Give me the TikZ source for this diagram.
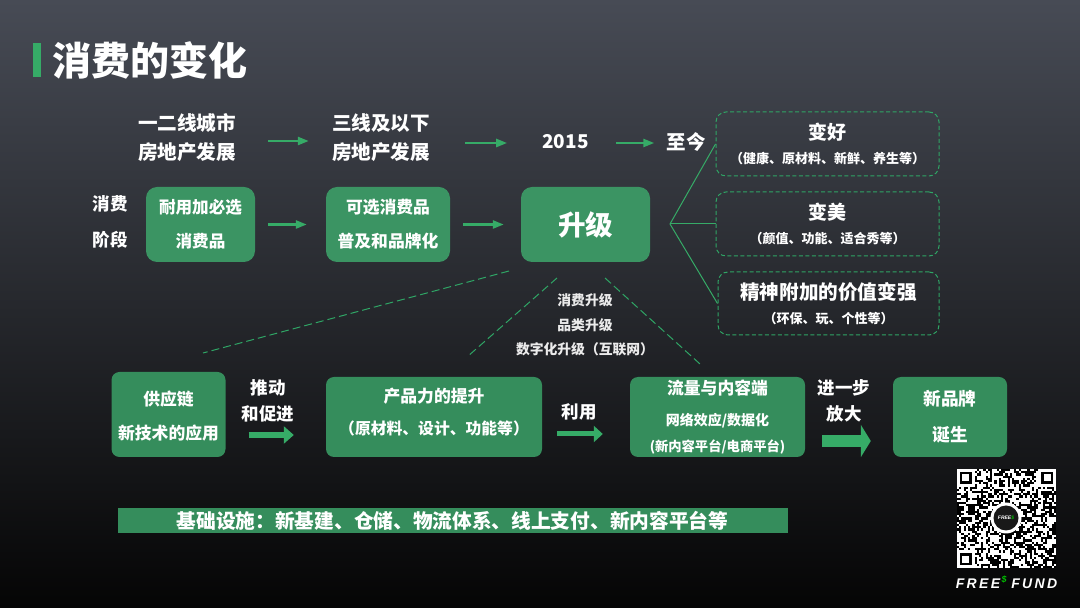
\documentclass[tikz,border=0pt]{standalone}
\usepackage{fontspec}
\setmainfont{Noto Sans CJK SC}
\newfontfamily\logofont{Liberation Sans}
\usetikzlibrary{arrows.meta}
\definecolor{boxgreen}{HTML}{3B9463}
\definecolor{lowgreen}{HTML}{358D5C}
\definecolor{arrowgreen}{HTML}{36AB67}
\definecolor{dashgreen}{HTML}{2FA565}
\definecolor{bgtop}{HTML}{474B55}
\definecolor{bgmid}{HTML}{2A2C32}
\definecolor{bgend}{HTML}{050505}
\newcommand{\fs}[2]{\fontsize{#1}{#2}\selectfont}
\tikzset{
  lbl/.style={text=white, font=\bfseries, align=center, inner sep=0pt},
  topbox/.style={lbl, fill=boxgreen, rounded corners=11pt, minimum height=75pt},
  lowbox/.style={lbl, fill=lowgreen, rounded corners=8pt, minimum height=80pt},
  dashbox/.style={lbl, draw=dashgreen, dash pattern=on 4pt off 2.5pt, line width=1pt, rounded corners=10pt, minimum width=223pt, minimum height=64pt},
  thinarrow/.style={draw=arrowgreen, line width=2.4pt, -{Triangle[length=11pt,width=8pt]}},
  fatarrow/.style={draw=arrowgreen, line width=6pt, -{Triangle[length=10pt,width=17pt]}},
  stem/.style={draw=arrowgreen, line width=1pt},
  dashline/.style={draw=dashgreen, dash pattern=on 8pt off 4pt, line width=1pt}
}
\begin{document}
\begin{tikzpicture}[x=1pt, y=1pt]
\useasboundingbox (0,0) rectangle (1080,608);
\fill[top color=bgtop, middle color=bgmid, bottom color=bgend] (0,0) rectangle (1080,608);

\node[fill=arrowgreen, minimum width=8pt, minimum height=34pt, inner sep=0pt] (titlebar) at (37,548) {};
\node[lbl, anchor=west, font=\bfseries\fs{39}{44}] (title) at (52.5,548) {消费的变化};

\node[lbl, font=\bfseries\fs{19.6}{29}] (tierone) at (187,470.5) {一二线城市\\房地产发展};
\node[lbl, font=\bfseries\fs{19.6}{29}, right of=tierone, node distance=194pt] (tierthree) {三线及以下\\房地产发展};
\node[lbl, font=\bfseries\fs{19}{24}, right of=tierthree, node distance=184.5pt, yshift=-4.5pt] (since) {2015};
\node[lbl, font=\bfseries\fs{19.5}{24}, right of=since, node distance=120.5pt] (today) {至今};

\node[lbl, font=\bfseries\fs{17.5}{36}] (stage) at (110,386.5) {消费\\阶段};
\node[topbox, font=\bfseries\fs{16.6}{34}, minimum width=109pt] (durable) at (200.5,383.5) {耐用加必选\\消费品};
\node[topbox, font=\bfseries\fs{16.8}{34}, minimum width=124pt, right of=durable, node distance=187.5pt] (optional) {可选消费品\\普及和品牌化};
\node[topbox, font=\bfseries\fs{27.5}{32}, minimum width=129pt, right of=optional, node distance=197.5pt] (upgrade) {升级};

\node[dashbox] (better) at (827.5,464) {\fs{19}{26}变好\\[10pt]\fs{13}{26}（健康、原材料、新鲜、养生等）};
\node[dashbox, below of=better, node distance=80pt] (prettier) {\fs{19}{26}变美\\[10pt]\fs{13}{26}（颜值、功能、适合秀等）};
\node[dashbox, minimum width=221pt, minimum height=63pt, below of=prettier, node distance=79.5pt, xshift=1pt] (spirit) {\fs{19.6}{27}精神附加的价值变强\\[10pt]\fs{13}{27}（环保、玩、个性等）};
\node[lbl, text=white!92!black, font=\bfseries\fs{13.8}{24.5}] (ways) at (585,283) {消费升级\\品类升级\\数字化升级（互联网）};

\node[lowbox, font=\bfseries\fs{16.8}{34}, minimum width=114pt, minimum height=85pt] (chain) at (168.5,193.5) {\rule{0pt}{18pt}供应链\\新技术的应用};
\node[lowbox, font=\bfseries\fs{16.8}{32}, minimum width=216pt, right of=chain, node distance=265.5pt, yshift=-2.5pt] (product) {产品力的提升\\\fs{15.8}{32}（原材料、设计、功能等）\rule[-12pt]{0pt}{1pt}};
\node[lowbox, minimum width=175pt, right of=product, node distance=283.5pt] (flow) {\fs{16.8}{30}流量与内容端\\[16pt]\fs{14}{30}网络效应/数据化\\[11pt]\fs{13.3}{27}(新内容平台/电商平台)};
\node[lowbox, font=\bfseries\fs{17.7}{36}, minimum width=114pt, right of=flow, node distance=232.5pt] (brand) {新品牌\\诞生};

\node[lbl, font=\bfseries\fs{17.5}{26}] (push) at (268,207) {推动\\和促进};
\node[lbl, font=\bfseries\fs{17.5}{26}] (use) at (579,196) {利用};
\node[lbl, font=\bfseries\fs{17.5}{26}] (grow) at (844,207) {进一步\\放大};
\node[lbl, fill=lowgreen, font=\bfseries\fs{19.7}{24}, minimum width=670pt, minimum height=25pt] (base) at (452.5,87.5) {基础设施：新基建、仓储、物流体系、线上支付、新内容平台等};

\coordinate (hub) at (670,384);
\coordinate (leftstart) at (509,337);
\coordinate (leftend) at (203,255);
\coordinate (midstart) at (557,330);
\coordinate (midend) at (467,251);
\coordinate (rightstart) at (605,330);
\coordinate (rightend) at (700,244);

\draw[thinarrow, shorten <=32pt, shorten >=23pt] ([yshift=-3.5pt]tierone.east) -- ([yshift=-3.5pt]tierthree.west);
\draw[thinarrow, shorten <=35pt, shorten >=35pt] ([yshift=-5.5pt]tierthree.east) -- ([yshift=-1pt]since.west);
\draw[thinarrow, shorten <=27pt, shorten >=12pt] ([yshift=-1pt]since.east) -- ([yshift=-1pt]today.west);
\draw[thinarrow, shorten <=13pt, shorten >=19pt] (durable) -- (optional);
\draw[thinarrow, shorten <=13pt, shorten >=17pt] (optional) -- (upgrade);
\draw[stem] (hub) -- (better.west);
\draw[stem] (hub) -- (prettier.west);
\draw[stem] (hub) -- (spirit.west);
\draw[dashline] (leftstart) -- (leftend);
\draw[dashline] (midstart) -- (midend);
\draw[dashline] (rightstart) -- (rightend);
\draw[fatarrow, shorten <=23pt, shorten >=32pt] ([yshift=-20.5pt]chain.east) -- ([yshift=-18pt]product.west);
\draw[fatarrow, line width=5pt, -{Triangle[length=9pt,width=16pt]}, shorten <=15pt, shorten >=27pt] ([yshift=-17pt]product.east) -- ([yshift=-17pt]flow.west);
\draw[fatarrow, line width=12pt, -{Triangle[length=10pt,width=32pt]}, shorten <=17pt, shorten >=22pt] ([yshift=-24pt]flow.east) -- ([yshift=-24pt]brand.west);

\fill[black] (957,40) rectangle (1056,139);
\pgfmathsetseed{2015}
\foreach \col in {0,...,44}
  \foreach \row in {0,...,44}{
    \pgfmathparse{rnd>0.5 ? 1 : 0}
    \ifnum\pgfmathresult=1
      \fill[white] ({957+\col*2.2},{40+\row*2.2}) rectangle +(2.25,2.25);
    \fi
  }
\foreach \qx/\qy in {957/121.4, 1038.4/121.4, 957/40}{
  \fill[black] (\qx-0.1,\qy-0.1) rectangle +(17.8,17.8);
  \fill[white] (\qx,\qy) rectangle +(17.6,17.6);
  \fill[black] (\qx+2.6,\qy+2.6) rectangle +(12.4,12.4);
  \fill[white] (\qx+5.4,\qy+5.4) rectangle +(6.8,6.8);
}
\fill[white] (1006,90) circle (15.5);
\node[circle, fill=black!90!white, minimum size=25pt, inner sep=0pt, text=white, font=\logofont\bfseries\itshape\fs{5}{6}] (qrlogo) at (1006,90) {FREE\textcolor{green!75!black}{\$}};
\node[inner sep=0pt, text=white, font=\logofont\bfseries\itshape\fs{14}{16}] (fund) at (1006.5,26) {F\,R\,E\,E\raisebox{6pt}{\textcolor{green!75!black}{\fs{9}{10}\,\$}}\,\,F\,U\,N\,D};
\end{tikzpicture}
\end{document}
